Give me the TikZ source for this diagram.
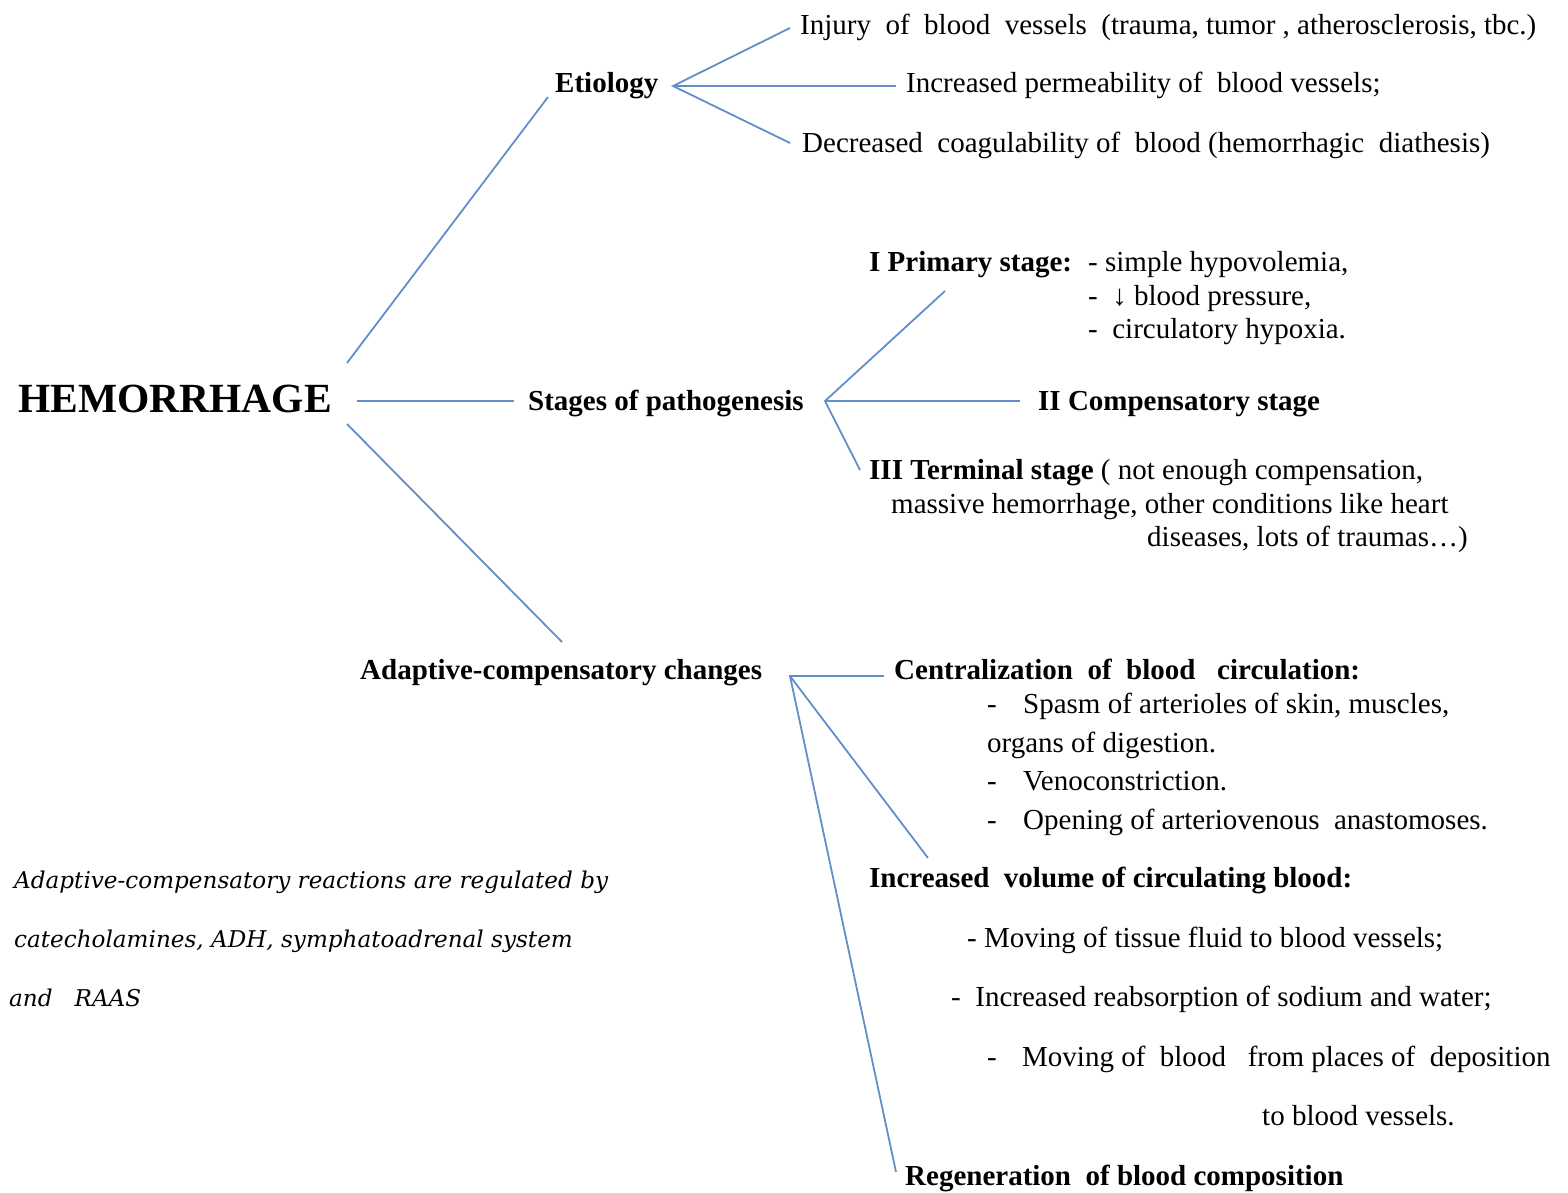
\documentclass[tikz,border=0pt]{standalone}
\usepackage{fontspec}
\setmainfont{Liberation Serif}
\newfontfamily\notefont{DejaVu Serif}
\usetikzlibrary{positioning}
\definecolor{linkblue}{RGB}{98,142,202}

\begin{document}
\begin{tikzpicture}[x=1pt,y=-1pt]
\tikzstyle{branch}=[draw=linkblue, line width=1.8pt];
\tikzstyle{txt}=[anchor=base west, inner sep=0pt, font=\fontsize{29}{34}\selectfont];
\tikzstyle{head}=[txt, font=\fontsize{29}{34}\selectfont\bfseries];
\tikzstyle{note}=[anchor=base west, inner sep=0pt, font=\notefont\itshape\fontsize{23.1}{27}\selectfont];
\useasboundingbox (0,0) rectangle (1568,1192);

\node[head, font=\fontsize{41.5}{46}\selectfont\bfseries] (hem) at (18,412) {HEMORRHAGE};

% etiology
\node[head] (etio) at (555,92) {Etiology};
\node[txt] (injury) at (800,34) {Injury\ \ of\ \ blood\ \ vessels\ \ (trauma, tumor , atherosclerosis, tbc.)};
\node[txt] (perm) at (906,92) {Increased permeability of\ \ blood vessels;};
\node[txt] (coag) at (802,152) {Decreased\ \ coagulability of\ \ blood (hemorrhagic\ \ diathesis)};

% stages
\node[head] (stages) at (528,410) {Stages of pathogenesis};
\node[head] (prim) at (869,271) {I Primary stage:};
\node[txt] (prim1) at (1088,271) {- simple hypovolemia,};
\node[txt] (prim2) at (1088,305) {-\ \ ↓ blood pressure,};
\node[txt] (prim3) at (1088,338) {-\ \ circulatory hypoxia.};
\node[head] (comp) at (1038,410) {II Compensatory stage};
\node[txt] (term1) at (869,479) {\textbf{III Terminal stage} ( not enough compensation,};
\node[txt] (term2) at (891,513) {massive hemorrhage, other conditions like heart};
\node[txt] (term3) at (1147,546) {diseases, lots of traumas…)};

% adaptive changes
\node[head] (adapt) at (360,679) {Adaptive-compensatory changes};
\node[head] (central) at (894,679) {Centralization\ \ of\ \ blood\ \ \ circulation:};
\node[txt] (spasm) at (987,713) {\makebox[36pt][l]{-}Spasm of arterioles of skin, muscles,};
\node[txt] (organs) at (987,752) {organs of digestion.};
\node[txt] (veno) at (987,790) {\makebox[36pt][l]{-}Venoconstriction.};
\node[txt] (open) at (987,829) {\makebox[36pt][l]{-}Opening of arteriovenous\ \ anastomoses.};
\node[head] (volume) at (869,887) {Increased\ \ volume of circulating blood:};
\node[txt] (tissue) at (967,947) {- Moving of tissue fluid to blood vessels;};
\node[txt] (reabs) at (951,1006) {-\ \ Increased reabsorption of sodium and water;};
\node[txt] (depo) at (987,1066) {\makebox[35pt][l]{-}Moving of\ \ blood\ \ \ from places of\ \ deposition};
\node[txt] (depo2) at (1262,1125) {to blood vessels.};
\node[head] (regen) at (905,1185) {Regeneration\ \ of blood composition};

% note
\node[note] (note1) at (14,888) {Adaptive-compensatory reactions are regulated by};
\node[note] (note2) at (14,947) {catecholamines, ADH, symphatoadrenal system};
\node[note] (note3) at (9,1006) {and\ \ \ RAAS};

% line ends
\coordinate (hemup) at (347,363);
\coordinate (hemmid) at (357,401);
\coordinate (hemlow) at (347,424);
\coordinate (etioin) at (548,97);
\coordinate (stagesin) at (514,401);
\coordinate (adaptin) at (562,642);
\coordinate (etiofork) at (673,86);
\coordinate (injuryin) at (790,28);
\coordinate (permin) at (896,86);
\coordinate (coagin) at (790,143);
\coordinate (stagesfork) at (825,401);
\coordinate (primin) at (945,291);
\coordinate (compin) at (1020,401);
\coordinate (termin) at (860,470);
\coordinate (adaptfork) at (790,676);
\coordinate (centralin) at (884,676);
\coordinate (volumein) at (928,858);
\coordinate (regenin) at (896,1172);

\draw[branch] (hemup) -- (etioin);
\draw[branch] (hemmid) -- (stagesin);
\draw[branch] (hemlow) -- (adaptin);

\draw[branch] (injuryin) -- (etiofork) -- (coagin);
\draw[branch] (etiofork) -- (permin);

\draw[branch] (primin) -- (stagesfork) -- (termin);
\draw[branch] (stagesfork) -- (compin);

\draw[branch] (centralin) -- (adaptfork) -- (regenin);
\draw[branch] (adaptfork) -- (volumein);
\end{tikzpicture}
\end{document}
